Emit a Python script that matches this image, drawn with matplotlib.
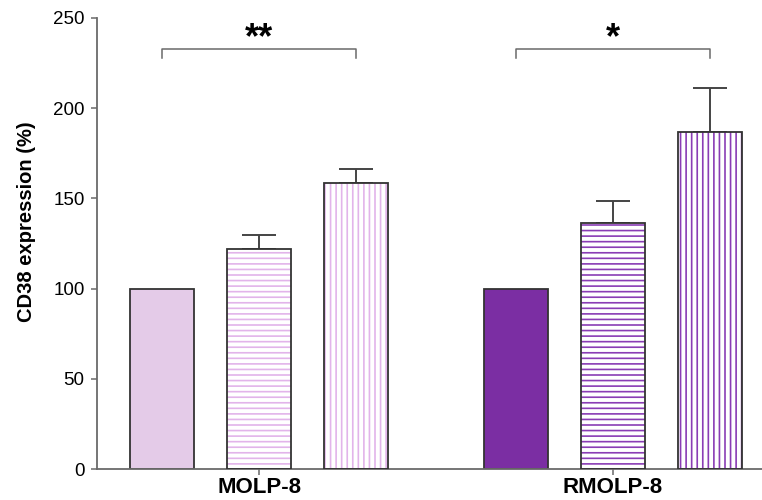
import numpy as np
import matplotlib

matplotlib.use("Agg")
import matplotlib.pyplot as plt

plt.rcParams["font.family"] = ["Liberation Sans", "DejaVu Sans"]
plt.rcParams["hatch.linewidth"] = 1.2

# values
groups = ["MOLP-8", "RMOLP-8"]
molp_means = [100, 122, 158.5]
molp_err = [0, 7.5, 8]
rmolp_means = [100, 136.5, 187]
rmolp_err = [0, 12, 24]
stars = ["**", "*"]

LIGHT = "#e4cbe8"
LIGHT_HATCH = "#e2b4ea"
DARK = "#7b2ea3"
DARK_HATCH = "#8a3db5"
EDGE = "#333333"
AXIS = "#6a6a6a"

width = 0.181
offsets = np.array([-0.274, 0.0, 0.274])
hatches = [None, "---", "|||"]

fig = plt.figure(figsize=(7.62, 5.0), dpi=100)
ax = fig.add_axes([0.1273, 0.062, 0.8727, 0.902])

series = [(molp_means, molp_err, LIGHT, LIGHT_HATCH), (rmolp_means, rmolp_err, DARK, DARK_HATCH)]
for gi, (means, errs, fill, hcol) in enumerate(series):
    xs = gi + offsets
    for x, m, e, h in zip(xs, means, errs, hatches):
        if h is None:
            ax.bar(x, m, width, color=fill, edgecolor=EDGE, linewidth=1.3, zorder=2)
        else:
            # hatch in the series colour, outline drawn separately in dark grey
            ax.bar(x, m, width, color="white", edgecolor=hcol, hatch=h, linewidth=0, zorder=2)
            ax.bar(x, m, width, fill=False, edgecolor=EDGE, linewidth=1.3, zorder=3)
        if e > 0:
            ax.errorbar(x, m, yerr=[[0], [e]], color="#444444", elinewidth=1.4,
                        capsize=12, capthick=1.4, fmt="none", zorder=1)

    # significance bracket
    x0, x1 = gi + offsets[0], gi + offsets[2]
    ax.plot([x0, x0, x1, x1], [227.8, 232.8, 232.8, 227.8], color=AXIS, lw=1.1,
            clip_on=False)
    ax.text(gi, 233.2, stars[gi], ha="center", va="baseline", fontsize=26,
            fontweight="bold")

ax.set_xlim(-0.458, 1.421)
ax.set_ylim(0, 250)
ax.set_yticks([0, 50, 100, 150, 200, 250])
ax.set_xticks([0, 1])
ax.set_xticklabels(groups, fontsize=16, fontweight="bold")
ax.tick_params(axis="y", labelsize=13.5, length=4, width=1.1, color=AXIS, pad=5)
ax.tick_params(axis="x", length=4, width=1.1, color=AXIS, pad=2)
ax.set_ylabel("CD38 expression (%)", fontsize=14.5, fontweight="bold")
ax.yaxis.set_label_coords(-0.092, 0.548)

for side in ("top", "right"):
    ax.spines[side].set_visible(False)
for side in ("left", "bottom"):
    ax.spines[side].set_color(AXIS)
    ax.spines[side].set_linewidth(1.3)

fig.savefig("out.png", dpi=100)
